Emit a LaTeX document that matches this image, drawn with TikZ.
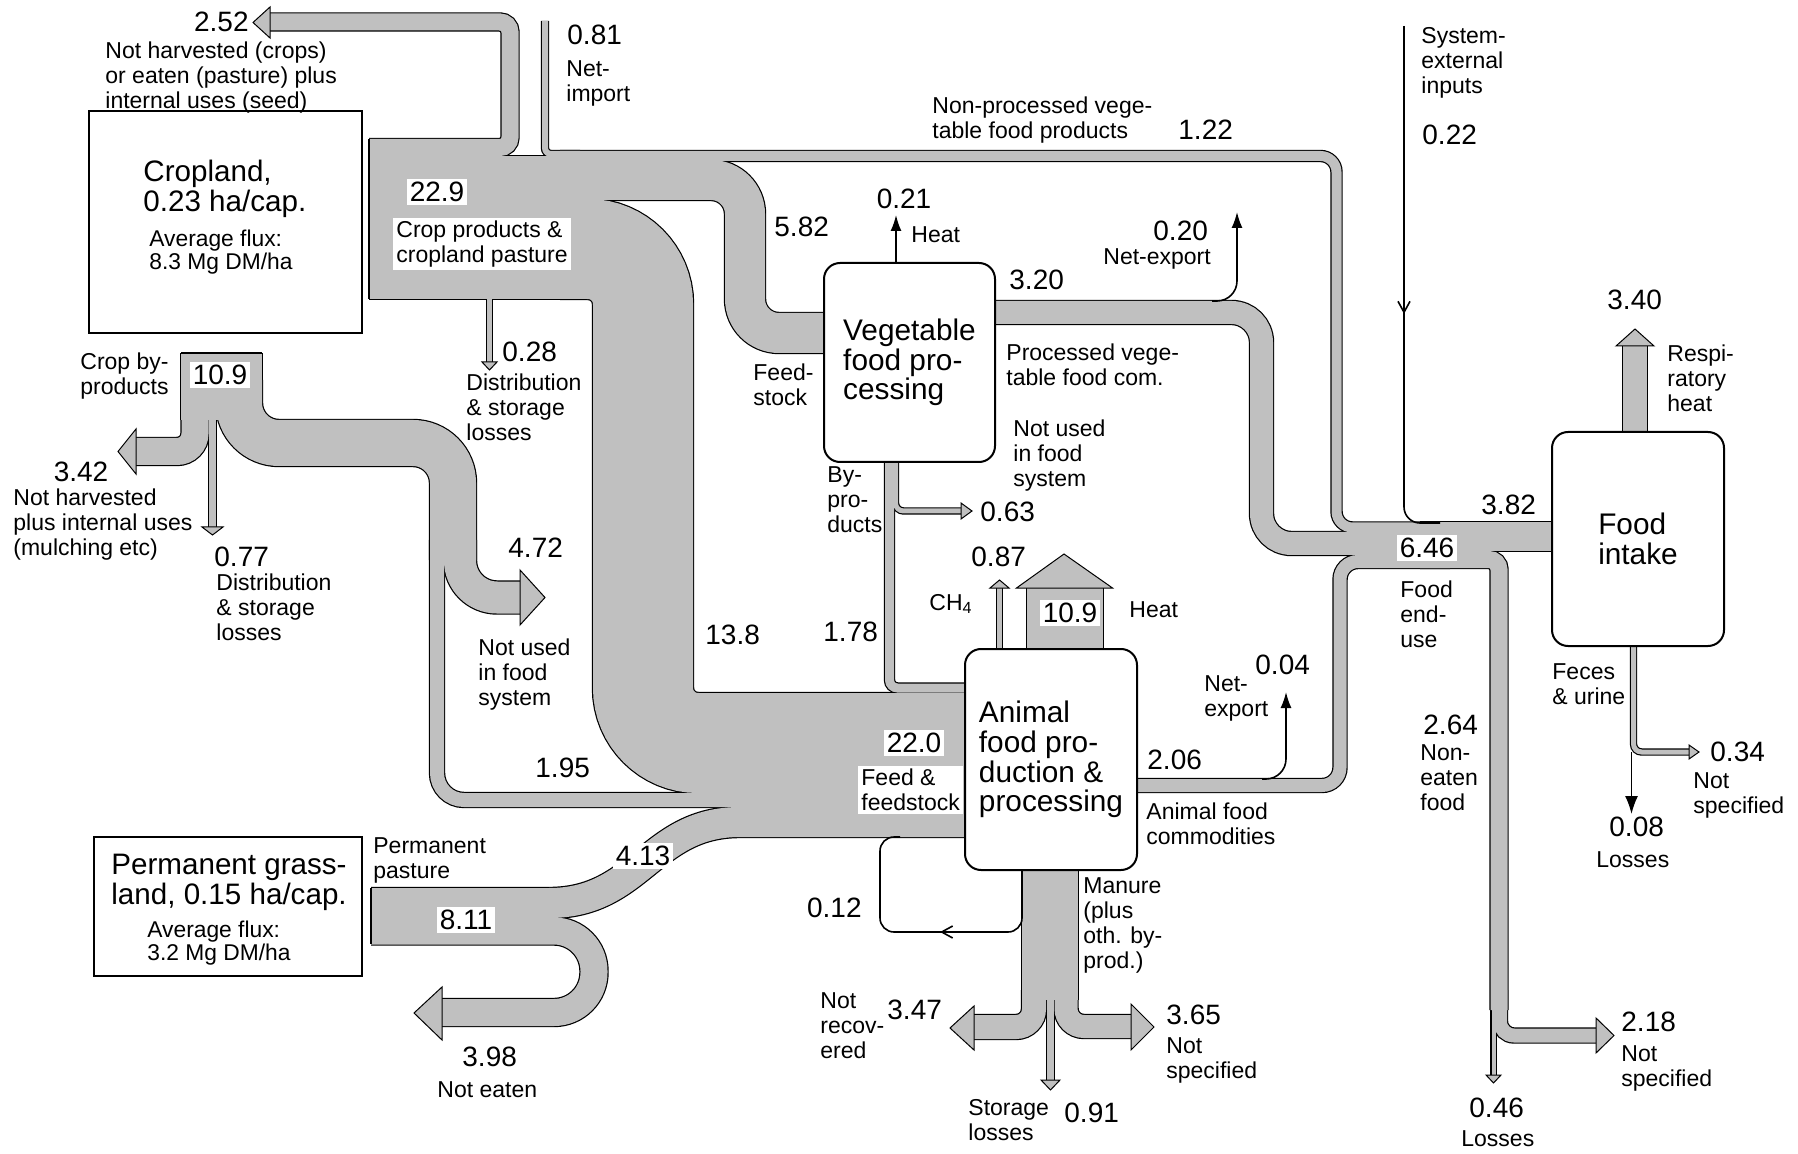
\documentclass[tikz,border=0pt]{standalone}
\usepackage{fontspec}
\setmainfont{Liberation Sans}
\usetikzlibrary{arrows.meta}
\definecolor{flowgray}{RGB}{192,192,192}

\tikzset{
  num/.style={font=\fontsize{14}{14}\selectfont, inner sep=0.5pt},
  tag/.style={num, fill=white, inner sep=1.5pt},
  lbl/.style={font=\fontsize{11.5}{12.5}\selectfont, align=left, inner sep=0pt, anchor=west},
  landtitle/.style={font=\fontsize{14.8}{15}\selectfont, align=left, inner sep=0pt, anchor=west},
  flux/.style={font=\fontsize{11.4}{11.6}\selectfont, align=left, inner sep=0pt, anchor=west},
  procbox/.style={draw, fill=white, rounded corners=8pt, line width=1pt, align=left, font=\fontsize{14.9}{14.8}\selectfont},
  landbox/.style={draw, fill=white, line width=1pt},
  tiphead/.style={draw, fill=flowgray, line width=0.5pt},
  openedge/.style={line width=0.8pt},
  arr/.style={line width=0.8pt, -{Latex[length=8pt,width=5.5pt]}},
  barb/.style={line width=0.8pt, -{Straight Barb[length=5.5pt,width=6pt]}},
}

% every flow band, drawn twice: black outline, then grey body
\newcommand\allflows{%
  % cropland
  \draw[fl=143] (369,227.5) -- (575,227.5);
  \draw[fl=17, rounded corners=5pt] (369,147.5) -- (510,147.5) -- (510,22) -- (270,22);
  \draw[fl=6, rounded corners=3pt] (545,21) -- (545,154) -- (580,154);
  \draw[fl=5] (489.5,295) -- (489.5,362);
  \draw[fl=10, rounded corners=8pt] (560,156) -- (1336.5,156) -- (1336.5,527.5) -- (1450,527.5);
  \draw[fl=40, rounded corners=17pt] (560,180) -- (745,180) -- (745,333) -- (824,333);
  \draw[fl=100, rounded corners=27.5pt] (560,249) -- (643,249) -- (643,743) -- (965,743);
  % crop by-products
  \draw[fl=81] (221.5,353) -- (221.5,420);
  \draw[fl=27, rounded corners=9pt] (195,380) -- (195,451.5) -- (136,451.5);
  \draw[fl=7] (212.5,410) -- (212.5,527);
  \draw[fl=46, rounded corners=20pt] (239,380) -- (239,443) -- (453,443) -- (453,560);
  \draw[fl=32, rounded corners=18.5pt] (460,540) -- (460,597.5) -- (520,597.5);
  \draw[fl=14, rounded corners=13.5pt] (437,540) -- (437,800) -- (965,800);
  % vegetable processing
  \draw[fl=9, rounded corners=4pt] (889.5,462) -- (889.5,688) -- (965,688);
  \draw[fl=5, rounded corners=4pt] (895.5,462) -- (895.5,511) -- (961,511);
  \draw[fl=23, rounded corners=15pt] (995,312.5) -- (1261.5,312.5) -- (1261.5,543.5) -- (1450,543.5);
  % permanent pasture
  \draw[fl=56] (371,916) -- (550,916);
  \draw[fl=30] (371,903) -- (549,903) .. controls (640,903) and (650,822) .. (740,822) -- (965,822);
  \draw[fl=27, rounded corners=20pt] (371,931) -- (594,931) -- (594,1012.5) -- (442,1012.5);
  % animals
  \draw[fl=76] (1065,649) -- (1065,588);
  \draw[fl=5] (999.5,649) -- (999.5,588);
  \draw[fl=56] (1050,870) -- (1050,1000);
  \draw[fl=24, rounded corners=9pt] (1034,990) -- (1034,1027) -- (974,1027);
  \draw[fl=23, rounded corners=9pt] (1066,990) -- (1066,1026.5) -- (1131,1026.5);
  \draw[fl=7] (1050.5,990) -- (1050.5,1080);
  \draw[fl=13, rounded corners=9pt] (1137,785.5) -- (1340,785.5) -- (1340,561.5) -- (1450,561.5);
  % food end-use
  \draw[fl=29] (1420,536.5) -- (1552,536.5);
  \draw[fl=17, rounded corners=5pt] (1420,559.5) -- (1499,559.5) -- (1499,1010);
  \draw[fl=14, rounded corners=7pt] (1500,990) -- (1500,1035.5) -- (1596,1035.5);
  \draw[fl=4] (1493.5,990) -- (1493.5,1075);
  \draw[fl=24] (1635,432) -- (1635,346);
  \draw[fl=5, rounded corners=4pt] (1633.5,646) -- (1633.5,752) -- (1689,752);
}

\begin{document}
\begin{tikzpicture}[x=0.5pt, y=-0.5pt]
  \useasboundingbox (0,0) rectangle (1798,1154);

  \tikzset{fl/.style={draw=black, line width=#1*0.5pt+1.2pt}}
  \allflows
  \tikzset{fl/.style={draw=flowgray, line width=#1*0.5pt}}
  \allflows

  % open ends of the source areas
  \draw[openedge] (369,139) -- (369,299);
  \draw[openedge] (181,353) -- (262,353);
  \draw[openedge] (371,888) -- (371,944);

  % arrow heads of the bands
  \draw[tiphead] (270,7) -- (253,22.5) -- (270,38) -- cycle;
  \draw[tiphead] (136,429) -- (118,451.5) -- (136,474) -- cycle;
  \draw[tiphead] (202,527) -- (212.5,535) -- (223,527) -- cycle;
  \draw[tiphead] (482,362) -- (489.5,370) -- (497,362) -- cycle;
  \draw[tiphead] (520,570) -- (545,597.5) -- (520,625) -- cycle;
  \draw[tiphead] (961,503) -- (972,511) -- (961,519) -- cycle;
  \draw[tiphead] (990,588) -- (999.5,580) -- (1009,588) -- cycle;
  \draw[tiphead] (1016.5,588) -- (1064,554) -- (1112.5,588) -- cycle;
  \draw[tiphead] (974,1006) -- (950,1028) -- (974,1050) -- cycle;
  \draw[tiphead] (1131,1004) -- (1154,1027) -- (1131,1050) -- cycle;
  \draw[tiphead] (1041,1080) -- (1050.5,1090) -- (1060,1080) -- cycle;
  \draw[tiphead] (442,987) -- (414,1013) -- (442,1040) -- cycle;
  \draw[tiphead] (1616,346) -- (1635,329) -- (1654,346) -- cycle;
  \draw[tiphead] (1689,745) -- (1699,752) -- (1689,759) -- cycle;
  \draw[tiphead] (1596,1018) -- (1614,1035.5) -- (1596,1053) -- cycle;
  \draw[tiphead] (1486,1075) -- (1493.5,1083) -- (1501,1075) -- cycle;

  % boxes
  \node[landbox, minimum width=136.5pt, minimum height=111pt] (crop) at (225.5,222) {};
  \node[landbox, minimum width=134pt, minimum height=69.5pt] (grass) at (228,906.5) {};
  \node[procbox, minimum width=85.5pt, minimum height=99.5pt] (veg) at (909.5,362.5) {Vegetable\\food pro-\\cessing};
  \node[procbox, minimum width=86pt, minimum height=110.5pt] (anim) at (1051,759.5) {Animal\\food pro-\\duction \&\\processing};
  \node[procbox, minimum width=86pt, minimum height=107pt] (food) at (1638,539) {Food\\intake};

  \node[landtitle] (croptxt) at (143,189) {Cropland,\\0.23 ha/cap.};
  \node[flux] (cropflux) at (149,252) {Average flux:\\8.3 Mg DM/ha};
  \node[landtitle] (grasstxt) at (111,882) {Permanent grass-\\land, 0.15 ha/cap.};
  \node[flux] (grassflux) at (147,943) {Average flux:\\3.2 Mg DM/ha};

  % thin black flows
  \draw[arr] (896,263) -- (896,215);
  \draw[arr, rounded corners=10pt] (1212,301) -- (1237,301) -- (1237,212);
  \draw[arr, rounded corners=10pt] (1262,779) -- (1286,779) -- (1286,692);
  \draw[line width=0.8pt, -{Latex[length=9pt,width=6.5pt]}] (1631.5,752) -- (1631.5,814);
  \draw[barb] (1404,26) -- (1404,314);
  \draw[line width=0.8pt, rounded corners=8pt] (1404,305) -- (1404,523) -- (1440,523);
  \draw[barb, rounded corners=7pt] (1022,870) -- (1022,932) -- (940,932);
  \draw[line width=0.8pt, rounded corners=7pt] (945,932) -- (880,932) -- (880,837) -- (900,837);

  % values
  \foreach \x/\y/\t [count=\i] in {566/35/0.81, 1177/130/1.22, 1421/135/0.22, 773/227/5.82,
      1152/231/0.20, 1008/280/3.20, 1606/300/3.40, 501/352/0.28, 213/557/0.77, 507/548/4.72,
      1480/505/3.82, 979/512/0.63, 970/557/0.87, 704/635/13.8, 822/632/1.78, 1254/665/0.04,
      1422/725/2.64, 534/768/1.95, 1146/760/2.06, 1709/752/0.34, 1608/827/0.08, 886/1010/3.47,
      1165/1015/3.65, 1620/1022/2.18, 461/1057/3.98, 1468/1108/0.46, 1063/1113/0.91}
    \node[num, anchor=west] (val\i) at (\x,\y) {\t};
  \node[num, anchor=east] (v252) at (250,22) {2.52};
  \node[num] (v021) at (904,199) {0.21};
  \node[num] (v342) at (81,472) {3.42};
  \node[num, anchor=east] (v012) at (863,908) {0.12};
  \node[tag] (v229) at (437,192) {22.9};
  \node[tag] (v109a) at (220,375) {10.9};
  \node[tag] (v646) at (1427,548) {6.46};
  \node[tag] (v109b) at (1070,613) {10.9};
  \node[tag] (v220) at (914,743) {22.0};
  \node[tag] (v413) at (643,856) {4.13};
  \node[tag] (v811) at (466,920) {8.11};

  % labels
  \node[lbl] (notharv) at (105,78) {Not harvested (crops)\\or eaten (pasture) plus\\internal uses (seed)};
  \node[lbl] (netimp) at (566,83) {Net-\\import};
  \node[lbl] (nonproc) at (932,120) {Non-processed vege-\\table food products};
  \node[lbl] (sysext) at (1421,63) {System-\\external\\inputs};
  \node[lbl] (vegheat) at (911,235) {Heat};
  \node[lbl] (netexp) at (1103,259) {Net-export};
  \node[lbl, fill=white, inner sep=1.5pt] (cropprod) at (393,244) {Crop products \&\\cropland pasture};
  \node[lbl] (resp) at (1667,378) {Respi-\\ratory\\heat};
  \node[lbl] (cropby) at (80,376) {Crop by-\\products};
  \node[lbl] (procveg) at (1006,365) {Processed vege-\\table food com.};
  \node[lbl] (feedst) at (753,385) {Feed-\\stock};
  \node[lbl] (distA) at (466,407) {Distribution\\\& storage\\losses};
  \node[lbl] (notusedA) at (1013,456) {Not used\\in food\\system};
  \node[lbl] (mulch) at (13,525) {Not harvested\\plus internal uses\\(mulching etc)};
  \node[lbl] (byprod) at (827,500) {By-\\pro-\\ducts};
  \node[lbl] (distB) at (216,607) {Distribution\\\& storage\\losses};
  \node[lbl] (endu) at (1400,614) {Food\\end-\\use};
  \node[lbl] (animheat) at (1129,610) {Heat};
  \node[lbl] (ch4) at (929,604) {CH\textsubscript{4}};
  \node[lbl] (notusedB) at (478,675) {Not used\\in food\\system};
  \node[lbl] (feces) at (1552,684) {Feces\\\& urine};
  \node[lbl] (netexpB) at (1204,698) {Net-\\export};
  \node[lbl] (noneat) at (1420,778) {Non-\\eaten\\food};
  \node[lbl, fill=white, inner sep=1.5pt] (feed) at (858,790) {Feed \&\\feedstock};
  \node[lbl] (unspecA) at (1693,795) {Not\\specified};
  \node[lbl] (animcom) at (1146,824) {Animal food\\commodities};
  \node[lbl] (lossA) at (1596,860) {Losses};
  \node[lbl] (permp) at (373,860) {Permanent\\pasture};
  \node[lbl] (manure) at (1083,925) {Manure\\(plus\\oth. by-\\prod.)};
  \node[lbl] (notrec) at (820,1026) {Not\\recov-\\ered};
  \node[lbl] (unspecB) at (1166,1060) {Not\\specified};
  \node[lbl] (unspecC) at (1621,1068) {Not\\specified};
  \node[lbl] (noteat) at (437,1090) {Not eaten};
  \node[lbl] (storl) at (968,1120) {Storage\\losses};
  \node[lbl] (lossB) at (1461,1139) {Losses};
\end{tikzpicture}
\end{document}
